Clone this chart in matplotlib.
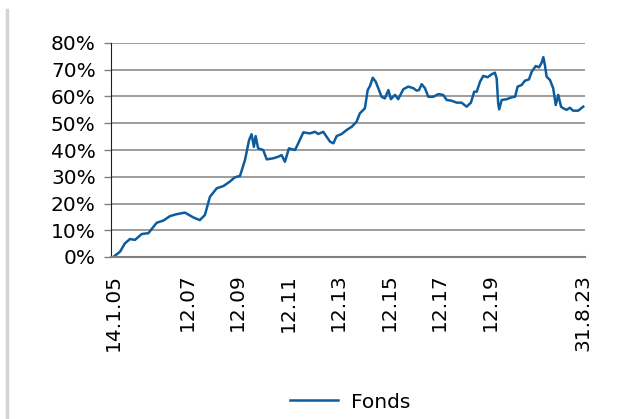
import numpy as np
import matplotlib
matplotlib.use("Agg")
import matplotlib.pyplot as plt
from matplotlib.lines import Line2D

# Zeit als Dezimaljahr, Wertentwicklung in %
years = [2005.04, 2005.31, 2005.50, 2005.70, 2005.90, 2006.17, 2006.43, 2006.76,
         2007.02, 2007.29, 2007.55, 2007.88, 2008.21, 2008.47, 2008.67, 2008.87,
         2009.14, 2009.40, 2009.66, 2009.86, 2010.06, 2010.26, 2010.42, 2010.52,
         2010.61, 2010.68, 2010.78, 2010.98, 2011.12, 2011.38, 2011.58, 2011.71,
         2011.84, 2012.00, 2012.24, 2012.37, 2012.57, 2012.83, 2013.03, 2013.16,
         2013.36, 2013.49, 2013.63, 2013.76, 2013.89, 2014.09, 2014.29, 2014.49,
         2014.68, 2014.81, 2015.01, 2015.12, 2015.21, 2015.32, 2015.44, 2015.54,
         2015.67, 2015.80, 2015.94, 2016.04, 2016.20, 2016.33, 2016.53, 2016.73,
         2016.93, 2017.06, 2017.15, 2017.26, 2017.39, 2017.52, 2017.72, 2017.92,
         2018.11, 2018.25, 2018.45, 2018.65, 2018.84, 2019.04, 2019.21, 2019.34,
         2019.44, 2019.57, 2019.70, 2019.87, 2020.03, 2020.16, 2020.23, 2020.29,
         2020.33, 2020.43, 2020.63, 2020.82, 2020.96, 2021.06, 2021.22, 2021.35,
         2021.51, 2021.62, 2021.78, 2021.91, 2022.01, 2022.08, 2022.14, 2022.21,
         2022.34, 2022.47, 2022.57, 2022.67, 2022.78, 2022.87, 2023.00, 2023.13,
         2023.26, 2023.46, 2023.66]
fonds = [0.0, 2.0, 5.1, 6.7, 6.4, 8.6, 8.9, 12.8,
         13.6, 15.3, 16.0, 16.6, 14.8, 13.8, 15.7, 22.5,
         25.7, 26.5, 28.2, 29.8, 30.3, 36.3, 43.7, 45.9,
         41.2, 45.2, 40.6, 40.0, 36.5, 36.9, 37.5, 38.1,
         35.6, 40.6, 40.0, 42.5, 46.6, 46.2, 46.8, 46.0,
         46.8, 45.0, 43.1, 42.5, 45.2, 46.0, 47.5, 48.7,
         50.6, 53.7, 55.6, 62.4, 63.9, 67.0, 65.5, 63.1,
         59.9, 59.3, 62.4, 59.0, 60.6, 59.0, 62.7, 63.7,
         63.1, 62.2, 62.4, 64.6, 63.1, 59.9, 59.9, 60.9,
         60.6, 58.7, 58.4, 57.7, 57.7, 56.2, 57.7, 61.8,
         61.8, 65.5, 67.7, 67.2, 68.3, 68.9, 66.8, 57.5,
         55.2, 58.7, 59.0, 59.7, 59.9, 63.7, 64.3, 65.9,
         66.4, 69.3, 71.4, 70.9, 72.6, 74.7, 71.8, 67.4,
         66.2, 63.1, 56.8, 60.6, 56.2, 55.6, 55.0, 55.8,
         54.7, 54.7, 56.2]

tick_pos = [2005.04, 2007.96, 2009.96, 2011.96, 2013.96, 2015.96, 2017.96, 2019.96, 2023.66]
tick_lab = ["14.1.05", "12.07", "12.09", "12.11", "12.13", "12.15", "12.17", "12.19", "31.8.23"]
y_ticks = [0, 10, 20, 30, 40, 50, 60, 70, 80]

plt.rcParams['font.family'] = ['DejaVu Sans']
fig = plt.figure(figsize=(6.2, 4.19), dpi=100)
ax = fig.add_axes([111/620, 1-257/419, 474/620, 214/419])

ax.plot(years, fonds, color="#0d5c9e", lw=1.8, label="Fonds")

ax.set_xlim(2004.95, 2023.73)
ax.set_ylim(0, 80)
ax.set_yticks(y_ticks)
ax.set_yticklabels([f"{v}%" for v in y_ticks], fontsize=14.5)
ax.set_xticks(tick_pos)
ax.set_xticklabels(tick_lab, rotation=90, fontsize=14.5, va="top")
ax.tick_params(axis="x", length=0, pad=12)
ax.tick_params(axis="y", length=5, width=1, color="#808080", pad=6)
ax.yaxis.grid(True, color="#8c8c8c", lw=1.2)
ax.set_axisbelow(True)
for s in ["top", "right"]:
    ax.spines[s].set_visible(False)
ax.spines["left"].set_color("#202020")
ax.spines["bottom"].set_color("#808080")
ax.spines["bottom"].set_linewidth(1.5)

fig.legend(loc="center", bbox_to_anchor=(350/620, 1-402/419), frameon=False,
           fontsize=14.5, handlelength=2.4, handletextpad=0.6)

# grauer Rahmen links
fig.add_artist(Line2D([7/620, 7/620], [0, 1-10/419], transform=fig.transFigure,
                      color="#d4d4d4", lw=2.5))

fig.savefig("out.png", dpi=100)
